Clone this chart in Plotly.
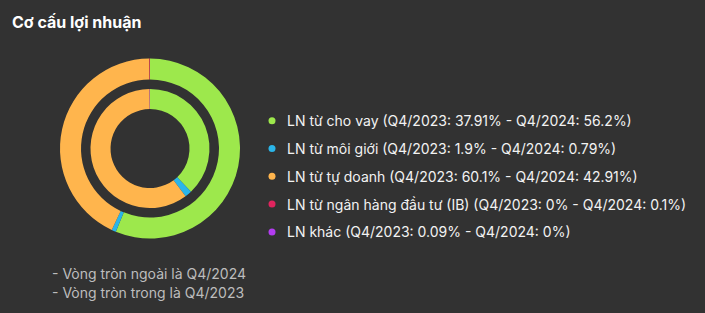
import plotly.graph_objects as go

# Profit structure by source
categories = [
    "LN từ cho vay",
    "LN từ môi giới",
    "LN từ tự doanh",
    "LN từ ngân hàng đầu tư (IB)",
    "LN khác",
]
q4_2023 = [37.91, 1.9, 60.1, 0, 0.09]
q4_2024 = [56.2, 0.79, 42.91, 0.1, 0]
colors = ["#9de84c", "#2bb5e8", "#ffb54d", "#e0245e", "#b33cf0"]

W, H = 705, 313
BG = "#323232"


def fmt(v):
    s = f"{v:.2f}".rstrip("0").rstrip(".")
    return s + "%"


def domain(cx, cy, r):
    # pixel center/radius -> paper domain (y measured from top)
    return dict(
        x=[(cx - r) / W, (cx + r) / W],
        y=[(H - cy - r) / H, (H - cy + r) / H],
    )


fig = go.Figure()

# Outer ring: Q4/2024
fig.add_trace(go.Pie(
    labels=categories, values=q4_2024, sort=False, direction="clockwise",
    rotation=0, hole=69 / 90, domain=domain(150, 148.5, 90),
    marker=dict(colors=colors, line=dict(width=0)),
    textinfo="none", hoverinfo="label+percent", showlegend=False,
))
# Inner ring: Q4/2023
fig.add_trace(go.Pie(
    labels=categories, values=q4_2023, sort=False, direction="clockwise",
    rotation=0, hole=39.5 / 59.5, domain=domain(150, 148.5, 59.5),
    marker=dict(colors=colors, line=dict(width=0)),
    textinfo="none", hoverinfo="label+percent", showlegend=False,
))

annotations = [
    dict(text="<b>Cơ cấu lợi nhuận</b>", x=10 / W, y=1 - 22 / H,
         xref="paper", yref="paper", xanchor="left", yanchor="middle",
         showarrow=False, font=dict(size=16, color="#ffffff", family="Inter")),
]
shapes = []

row_y0, row_step = 120.7, 27.8
for i, (name, a, b, c) in enumerate(zip(categories, q4_2023, q4_2024, colors)):
    y = 1 - (row_y0 + i * row_step) / H
    label = f"{name} (Q4/2023: {fmt(a)} - Q4/2024: {fmt(b)})"
    annotations.append(dict(
        text=label, x=285 / W, y=y, xref="paper", yref="paper",
        xanchor="left", yanchor="middle", showarrow=False,
        font=dict(size=14, color="#f2f2f2", family="Inter"),
    ))
    shapes.append(dict(
        type="circle", xref="paper", yref="paper",
        xsizemode="pixel", ysizemode="pixel",
        xanchor=272 / W, yanchor=y,
        x0=-3.5, x1=3.5, y0=-3.5, y1=3.5,
        fillcolor=c, line=dict(width=0),
    ))

notes = ["- Vòng tròn ngoài là Q4/2024", "- Vòng tròn trong là Q4/2023"]
for i, t in enumerate(notes):
    annotations.append(dict(
        text=t, x=50 / W, y=1 - (273 + i * 19.5) / H, xref="paper", yref="paper",
        xanchor="left", yanchor="middle", showarrow=False,
        font=dict(size=14, color="#bdbdbd", family="Inter"),
    ))

fig.update_layout(
    width=W, height=H,
    margin=dict(l=0, r=0, t=0, b=0),
    paper_bgcolor=BG, plot_bgcolor=BG,
    annotations=annotations, shapes=shapes,
    showlegend=False,
)

fig.write_html("out.html")
